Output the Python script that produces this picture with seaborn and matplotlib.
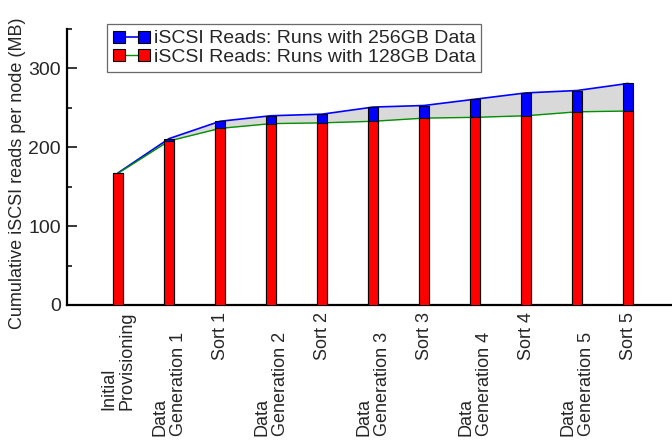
import numpy as np
import matplotlib
matplotlib.use("Agg")
import matplotlib.pyplot as plt
from matplotlib.lines import Line2D
from matplotlib.ticker import MultipleLocator
import seaborn as sns

# Workflow stages and cumulative iSCSI reads per node (MB)
stages = ["Initial\nProvisioning", "Data\nGeneration 1", "Sort 1",
          "Data\nGeneration 2", "Sort 2", "Data\nGeneration 3", "Sort 3",
          "Data\nGeneration 4", "Sort 4", "Data\nGeneration 5", "Sort 5"]
reads_256 = [167.5, 211, 233, 240, 242, 251, 253, 261, 269, 272, 281]
reads_128 = [167, 208, 224, 230, 231, 233, 237, 238, 240, 245, 246]
yticks = [0, 100, 200, 300]
legend_labels = ["iSCSI Reads: Runs with 256GB Data",
                 "iSCSI Reads: Runs with 128GB Data"]

sns.set_theme(style="white")
plt.rcParams["font.family"] = ["Liberation Sans", "DejaVu Sans"]

fig = plt.figure(figsize=(6.72, 4.41), dpi=100)
ax = fig.add_axes([0.0997, 0.3084, 0.9003, 0.6258])

pos = np.arange(len(stages))

# Gap between the two runs, shaded grey
ax.fill_between(pos, reads_128, reads_256, color="#d9d9d9", zorder=1, linewidth=0)
sns.lineplot(x=pos, y=reads_256, color="#0000ff", linewidth=1.2, sort=False,
             ax=ax, zorder=2)
sns.lineplot(x=pos, y=reads_128, color="#009000", linewidth=1.0, sort=False,
             ax=ax, zorder=2)

# 256GB bars behind, 128GB bars in front
sns.barplot(x=stages, y=reads_256, color="#0000ff", saturation=1, width=0.2,
            edgecolor="black", linewidth=0.8, ax=ax, zorder=3)
sns.barplot(x=stages, y=reads_128, color="#ff0000", saturation=1, width=0.2,
            edgecolor="black", linewidth=0.8, ax=ax, zorder=4)

ax.set_xlim(-1.0, 10.86)
ax.set_ylim(0, 350)
ax.set_yticks(yticks)
ax.yaxis.set_minor_locator(MultipleLocator(50))
ax.tick_params(axis="y", which="both", left=True, right=False)
ax.tick_params(axis="y", which="major", direction="in", length=7.5, width=1.1,
               labelsize=14, pad=4.5, color="black")
ax.tick_params(axis="y", which="minor", direction="in", length=3.8, width=1.1,
               color="black")
ax.tick_params(axis="x", bottom=False, length=0, labelsize=13, pad=5)

ax.set_xticks(pos)
ax.set_xticklabels(stages, rotation=90, ha="center", va="top",
                   multialignment="left", linespacing=1.1)
for tick, name in zip(ax.xaxis.get_major_ticks(), stages):
    if name.startswith("Data"):
        tick.set_pad(19.5)

for side in ["top", "right"]:
    ax.spines[side].set_visible(False)
for side in ["left", "bottom"]:
    ax.spines[side].set_linewidth(1.6)
    ax.spines[side].set_color("black")

ax.set_xlabel("")
ax.set_ylabel("Cumulative iSCSI reads per node (MB)", fontsize=13)
ax.yaxis.set_label_coords(-0.068, 0.478)

handles = [
    Line2D([0], [0], color="#0000ff", linewidth=1.2, marker="s", markersize=8,
           markerfacecolor="#0000ff", markeredgecolor="black", markeredgewidth=0.8),
    Line2D([0], [0], color="#009000", linewidth=1.0, marker="s", markersize=8,
           markerfacecolor="#ff0000", markeredgecolor="black", markeredgewidth=0.8),
]
leg = fig.legend(handles, legend_labels, loc="upper left",
                 bbox_to_anchor=(107 / 672, 1 - 24 / 441),
                 bbox_transform=fig.transFigure, numpoints=2, fontsize=14,
                 frameon=True, fancybox=False, shadow=False, borderpad=0.3,
                 handlelength=1.9, handletextpad=0.2, labelspacing=0.05,
                 borderaxespad=0)
leg.get_frame().set_edgecolor("#444444")
leg.get_frame().set_linewidth(0.9)
leg.get_frame().set_facecolor("white")

fig.savefig("out.png", dpi=100)
